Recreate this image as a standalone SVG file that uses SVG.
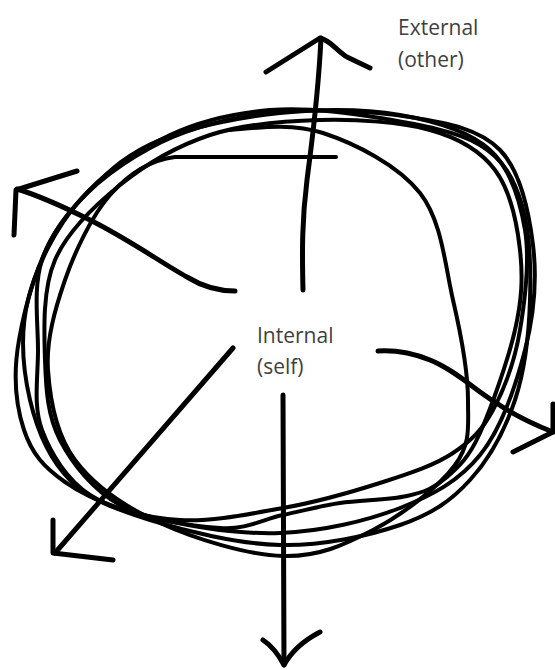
<svg xmlns="http://www.w3.org/2000/svg" width="555" height="670" viewBox="0 0 555 670">
<style>
.loop{fill:none;stroke:#000;stroke-width:4;stroke-linecap:round;stroke-linejoin:round}
.arrow{fill:none;stroke:#000;stroke-width:5;stroke-linecap:round;stroke-linejoin:round}
.lbl{font-family:"Open Sans","Liberation Sans",sans-serif;font-size:21px;fill:#3f3f3f}
</style>
<rect width="555" height="670" fill="#fff"/>
<g id="loops">
<path class="loop" d="M19,340 C13,374 16,406 24,430 S44,467.5 65,482 S114,508.5 150,517 S238,534.5 280,533 S367,521 400,508 S459,481 480,455 S516,385 525,350 S537,278 533,245 S520.5,171 500,150 S448,123 410,117 S313,108 270,113 S185,129 150,148 S82,193 60,225 S25,306 19,340 Z"/>
<path class="loop" d="M42,260 C33,287 38,322 38,350 S33,406 42,430 S67,480 90,495 S148,518 180,520 S249,514 283,508 S355,491 383,482 S435,465 453,453 S482,430.5 493,410 S515,360 520,330 S530,260 525,230 S511,169 490,150 S435,121 400,115 S320,109 280,113 S192,127 160,140 S110,170 90,190 S51,233 42,260 Z"/>
<path class="loop" d="M336,157 L175,157 C150,160 128,174.5 110,195 S75,251 65,280 S46,340 48,370 S56,434.5 75,460 S125,507 160,523 S247.5,555 283,556 S344,545 373,530 S439,487 455,465 S468,427.5 468,400 S461,334.5 453,300 S442,221 420,193 S355,143.5 323,133 S255,128 230,130"/>
<path class="loop" d="M28,300 C20,333 23,370 30,400 S50,460 70,480 S115,509 150,520 S238,544 280,545 S368,536 400,525 S451,501 470,480 S505,430 515,400 S529,332.5 530,300 S530,231 522,205 S504,159.5 480,145 S415,124 380,118 S305,107 270,110 S202,120 170,135 S104,172.5 80,200 S36,267 28,300 Z"/>
<path class="loop" d="M55,260 C42.5,289 44,330 45,360 S47.5,416 60,440 S93,490 120,505 S193,526 220,528 S263,519 283,515 S319,506 340,503 S389,500 407,496 S435,487.5 447,477 S469,457.5 480,433 S508,360.5 515,330 S523,277 520,250 S510,190 495,170 S459,138 430,130 S357,119 320,120 S243,124 210,135 S146,164 120,185 S67.5,231 55,260 Z"/>
</g>
<g id="connectors">
<g id="arrow-up">
<path class="arrow" d="M303,290 C302,250 302,220 307,180 S318,100 321,38"/>
<path class="arrow" d="M266,72 L320,38 C330,40 336,50 347,57 L370,68"/>
</g>
<g id="arrow-upleft">
<path class="arrow" d="M235,291 C215,291 200,285 187,277 C160,262 130,240 90,220 C60,205 40,196 17,189"/>
<path class="arrow" d="M77,171 L16,190 L14,235"/>
</g>
<g id="arrow-downleft">
<path class="arrow" d="M233,348 L55,553"/>
<path class="arrow" d="M53,520 L53,553 L113,560"/>
</g>
<g id="arrow-down">
<path class="arrow" d="M283,395 L284,665"/>
<path class="arrow" d="M263,640 Q275,648 284,665 Q295,645 320,632"/>
</g>
<g id="arrow-right">
<path class="arrow" d="M378,351 C395,350 410,352 430,360 C455,370 475,390 495,402 C515,416 535,425 553,432"/>
<path class="arrow" d="M513,452 L553,432 L553,404"/>
</g>
</g>
<g id="node-external">
<text class="lbl" x="398" y="35">External</text>
<text class="lbl" x="398" y="67">(other)</text>
</g>
<g id="node-internal">
<text class="lbl" x="257" y="343">Internal</text>
<text class="lbl" x="257" y="374">(self)</text>
</g>
</svg>
